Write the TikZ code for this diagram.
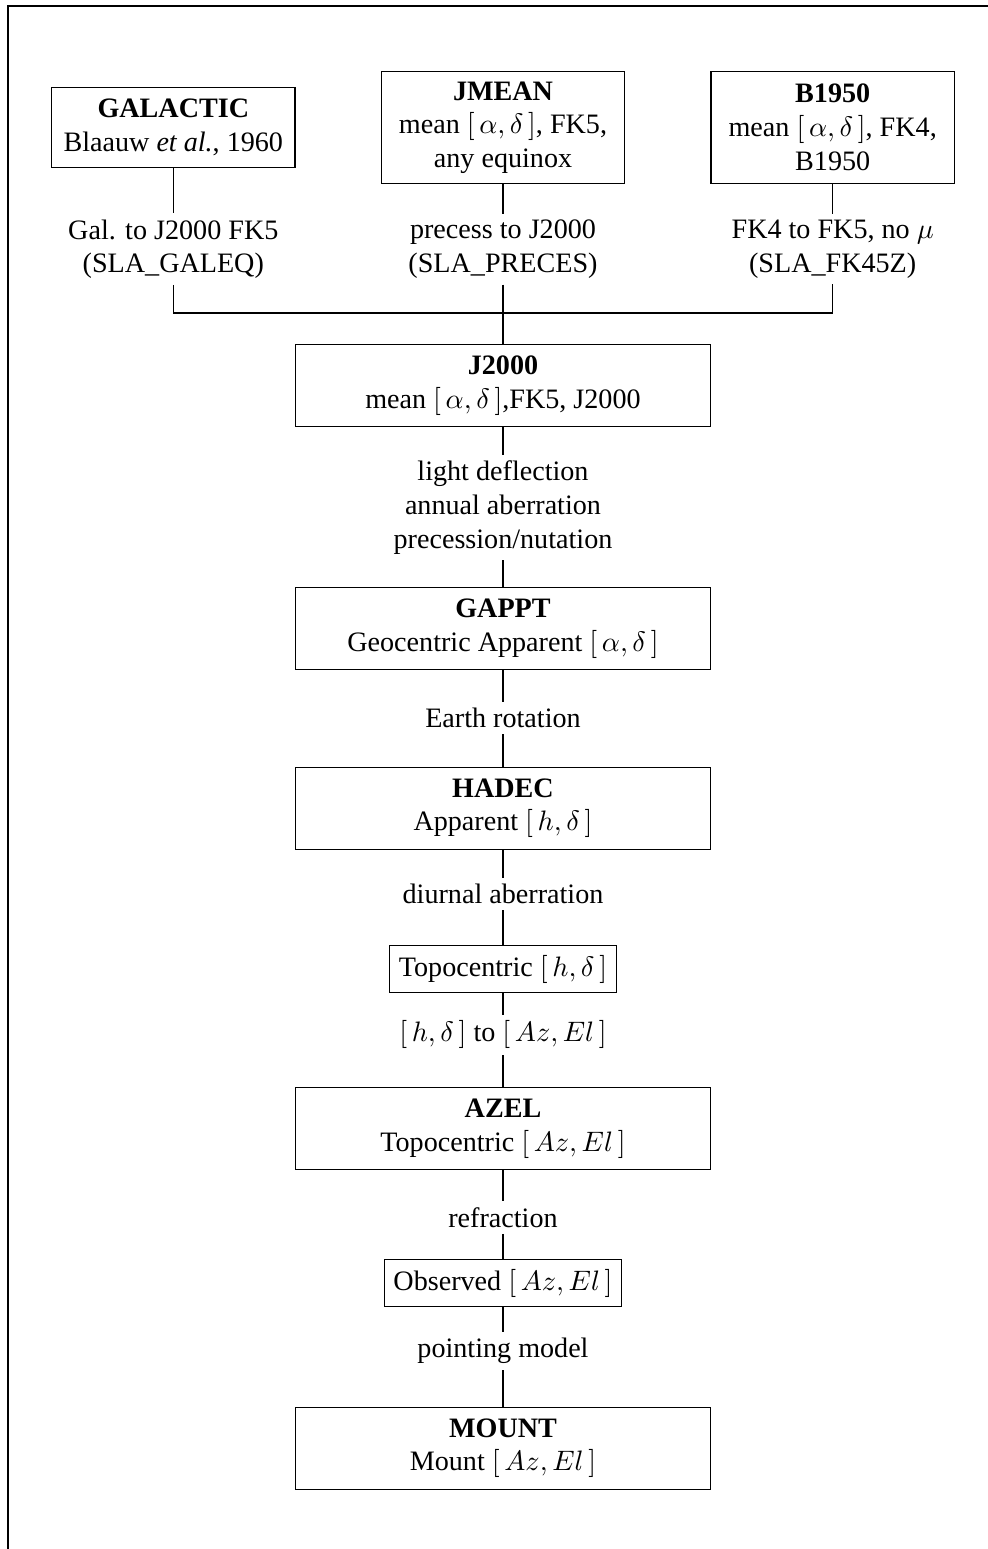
\documentclass[tikz,border=0pt]{standalone}
\usepackage{fontspec}
\setmainfont{Liberation Serif}
\usetikzlibrary{positioning}
\begin{document}
\begin{tikzpicture}[x=0.0125cm, y=-0.0125cm, node distance=1.5cm,
  bigbox/.style={draw, rectangle, minimum width=5.19cm, minimum height=1.025cm, align=center},
  topbox/.style={draw, rectangle, minimum width=3.04cm, align=center},
  smallbox/.style={draw, rectangle, align=center},
  lbl/.style={align=center, inner sep=2pt}]
\useasboundingbox (0,0) rectangle (987,1549);
\draw (8,1560) |- (1000,6);

\node (jmean) [topbox, minimum height=1.41cm] at (503,127.5) {\textbf{JMEAN}\\mean $[\,\alpha,\delta\,]$, FK5,\\any equinox};
\node (galactic) [topbox, minimum height=0.99cm, node distance=4.12cm, left of=jmean] {\textbf{GALACTIC}\\Blaauw \textit{et al.}, 1960};
\node (b1950) [topbox, minimum height=1.41cm, node distance=4.12cm, right of=jmean] {\textbf{B1950}\\mean $[\,\alpha,\delta\,]$, FK4,\\B1950};

\node (galconv) [lbl, node distance=1.52cm, below of=galactic] {Gal. to J2000 FK5\\(SLA\_GALEQ)};
\node (jprec) [lbl, node distance=1.52cm, below of=jmean] {precess to J2000\\(SLA\_PRECES)};
\node (fk45) [lbl, node distance=1.52cm, below of=b1950] {FK4 to FK5, no $\mu$\\(SLA\_FK45Z)};
\coordinate (join) at (503,313);

\node (j2000) [bigbox, node distance=3.225cm, below of=jmean] {\textbf{J2000}\\mean $[\,\alpha,\delta\,]$,FK5, J2000};
\node (apparent) [lbl, node distance=1.525cm, below of=j2000] {light deflection\\annual aberration\\precession/nutation};
\node (gappt) [bigbox, node distance=1.5125cm, below of=apparent] {\textbf{GAPPT}\\Geocentric Apparent $[\,\alpha,\delta\,]$};
\node (earthrot) [lbl, node distance=1.12cm, below of=gappt] {Earth rotation};
\node (hadec) [bigbox, node distance=1.125cm, below of=earthrot] {\textbf{HADEC}\\Apparent $[\,h,\delta\,]$};
\node (diurnal) [lbl, node distance=1.07cm, below of=hadec] {diurnal aberration};
\node (topo) [smallbox, minimum width=2.675cm, minimum height=0.54cm, node distance=0.94cm, below of=diurnal] {Topocentric $[\,h,\delta\,]$};
\node (hd2az) [lbl, node distance=0.82cm, below of=topo] {$[\,h,\delta\,]$ to $[\,Az,El\,]$};
\node (azel) [bigbox, node distance=1.175cm, below of=hd2az] {\textbf{AZEL}\\Topocentric $[\,Az,El\,]$};
\node (refr) [lbl, node distance=1.11cm, below of=azel] {refraction};
\node (observed) [smallbox, minimum width=2.84cm, minimum height=0.45cm, node distance=0.82cm, below of=refr] {Observed $[\,Az,El\,]$};
\node (pointing) [lbl, node distance=0.85cm, below of=observed] {pointing model};
\node (mount) [bigbox, node distance=1.21cm, below of=pointing] {\textbf{MOUNT}\\Mount $[\,Az,El\,]$};

\draw (galactic) -- (galconv);
\draw (jmean) -- (jprec);
\draw (b1950) -- (fk45);
\draw (galconv) |- (join) -| (fk45);
\draw (jprec) -- (j2000);
\draw (j2000) -- (apparent);
\draw (apparent) -- (gappt);
\draw (gappt) -- (earthrot);
\draw (earthrot) -- (hadec);
\draw (hadec) -- (diurnal);
\draw (diurnal) -- (topo);
\draw (topo) -- (hd2az);
\draw (hd2az) -- (azel);
\draw (azel) -- (refr);
\draw (refr) -- (observed);
\draw (observed) -- (pointing);
\draw (pointing) -- (mount);
\end{tikzpicture}
\end{document}
